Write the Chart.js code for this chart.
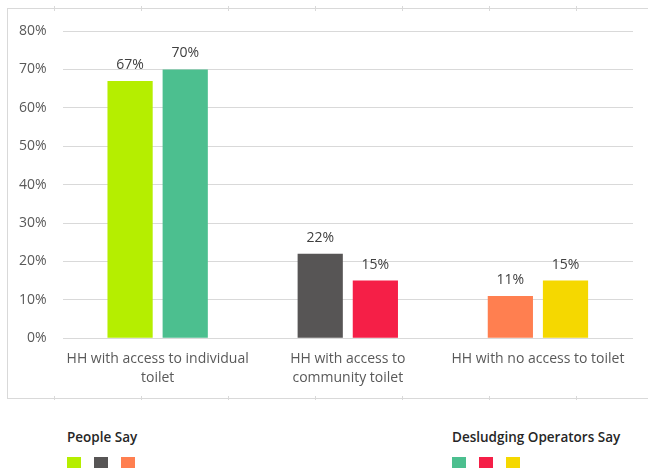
<!DOCTYPE html>
<html>
<head>
<meta charset="utf-8">
<script src="https://cdn.jsdelivr.net/npm/chart.js@4"></script>
<style>
  body { margin: 0; background: #fff; font-family: "Open Sans", sans-serif; }
  #wrap { position: absolute; left: 0; top: 0; width: 648px; height: 400px; }
  .leg { position: absolute; top: 428px; font-size: 13.5px; font-weight: 600; color: #262626; }
  .leg .sw { display: flex; gap: 13px; margin-top: 11px; }
  .leg .sw span { display: block; width: 14px; height: 11px; }
</style>
</head>
<body>
<div id="wrap"><canvas id="toiletChart" width="648" height="400"></canvas></div>
<div class="leg" id="legPeople" style="left:67px"></div>
<div class="leg" id="legOps" style="left:452px"></div>
<script>
// DATA
let categories = [['HH with access to individual', 'toilet'], ['HH with access to', 'community toilet'], 'HH with no access to toilet'];
let peopleSay = [67, 22, 11];
let operatorsSay = [70, 15, 15];
let peopleColors = ['#b5ee00', '#575555', '#ff7f50'];
let operatorsColors = ['#4cbf8f', '#f51f47', '#f5d800'];
let yTicks = [0, 10, 20, 30, 40, 50, 60, 70, 80];

// border box round the chart, with the little tick marks on it
let frame = {
  id: 'frame',
  beforeDraw(chart) {
    let c = chart.ctx;
    c.save();
    c.strokeStyle = '#d9d9d9';
    c.lineWidth = 1;
    c.strokeRect(7.5, 8.5, 650, 390);
    for (let x = 54; x < 648; x += 87) {
      c.beginPath();
      c.moveTo(x + 0.5, 6); c.lineTo(x + 0.5, 11);
      c.moveTo(x + 0.5, 396); c.lineTo(x + 0.5, 401);
      c.stroke();
    }
    c.restore();
  }
};

// value labels above the bars
let barLabels = {
  id: 'barLabels',
  afterDatasetsDraw(chart) {
    let c = chart.ctx;
    c.save();
    c.font = '14px "Open Sans"';
    c.fillStyle = '#404040';
    c.textAlign = 'center';
    c.textBaseline = 'bottom';
    chart.data.datasets.forEach((ds, i) => {
      chart.getDatasetMeta(i).data.forEach((bar, j) => {
        c.fillText(ds.data[j] + '%', bar.x, bar.y - 9);
      });
    });
    c.restore();
  }
};

let toiletChart = document.getElementById('toiletChart').getContext('2d');

let toiletChartVar = new Chart(toiletChart, {
  type: 'bar',
  data: {
    labels: categories,
    datasets: [{
      label: 'People Say',
      data: peopleSay,
      backgroundColor: peopleColors,
      categoryPercentage: 0.58,
      barPercentage: 0.82
    }, {
      label: 'Desludging Operators Say',
      data: operatorsSay,
      backgroundColor: operatorsColors,
      categoryPercentage: 0.58,
      barPercentage: 0.82
    }]
  },
  options: {
    responsive: false,
    animation: false,
    layout: {
      padding: { left: 3, right: 15, top: 31, bottom: 10 }
    },
    plugins: {
      legend: { display: false },
      tooltip: { enabled: false }
    },
    scales: {
      x: {
        grid: { display: false },
        border: { display: false },
        ticks: {
          color: '#595959',
          padding: 3,
          maxRotation: 0,
          autoSkip: false,
          font: { family: 'Open Sans', size: 14, lineHeight: 1.35 }
        }
      },
      y: {
        min: 0,
        max: 80,
        afterBuildTicks(axis) {
          axis.ticks = yTicks.map(v => ({ value: v }));
        },
        grid: { color: '#d9d9d9', drawTicks: false },
        border: { display: false },
        ticks: {
          color: '#595959',
          padding: 16,
          font: { family: 'Open Sans', size: 14 },
          callback: v => v + '%'
        }
      }
    }
  },
  plugins: [frame, barLabels]
});

// legend below the frame, built from the same arrays
function fillLegend(id, title, colors) {
  let el = document.getElementById(id);
  el.innerHTML = '<div>' + title + '</div><div class="sw">' +
    colors.map(col => '<span style="background:' + col + '"></span>').join('') + '</div>';
}
fillLegend('legPeople', 'People Say', peopleColors);
fillLegend('legOps', 'Desludging Operators Say', operatorsColors);
</script>
</body>
</html>
